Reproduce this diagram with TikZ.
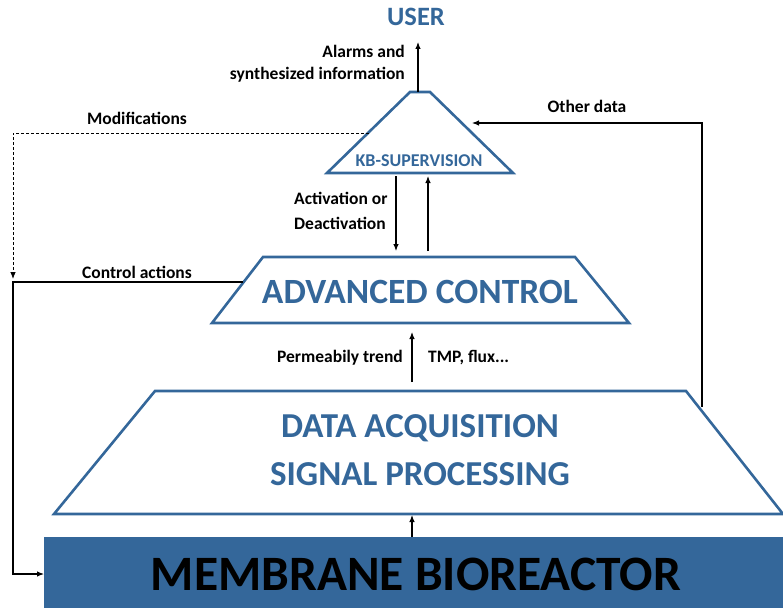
\documentclass[tikz,border=0pt]{standalone}
\usepackage{fontspec}
\setmainfont{Carlito}
\usetikzlibrary{arrows.meta}
\definecolor{mbrblue}{RGB}{52,103,154}

\begin{document}
\begin{tikzpicture}[x=1pt, y=-1pt, >={Latex[length=7pt,width=5.5pt]},
  level/.style={draw=mbrblue, line width=2.6pt, line join=miter},
  conn/.style={line width=1.1pt},
  lbl/.style={font=\fontsize{17.5}{19}\bfseries, inner sep=0pt},
  bluetxt/.style={text=mbrblue, inner sep=0pt}]
  \useasboundingbox (0,0) rectangle (783,607);

  % the four levels
  \fill[mbrblue] (44,537) rectangle (790,612);
  \draw[level] (155,391) -- (686,391) -- (783,514) -- (54,514) -- cycle;
  \draw[level] (263,257) -- (575,257) -- (629,323) -- (212,323) -- cycle;
  \draw[level] (410,92) -- (430,92) -- (513,173) -- (327,173) -- cycle;

  \node[bluetxt, anchor=base, font=\fontsize{26.5}{28}\bfseries] (USER) at (416,26) {USER};
  \node[bluetxt, anchor=base, font=\fontsize{18}{20}\bfseries] (KB) at (419,166) {KB-SUPERVISION};
  \node[bluetxt, anchor=base, font=\fontsize{35.5}{38}\bfseries] (AC) at (420,303) {ADVANCED CONTROL};
  \node[bluetxt, anchor=base, font=\fontsize{35}{38}\bfseries] (DA) at (420,437) {DATA ACQUISITION};
  \node[bluetxt, anchor=base, font=\fontsize{35}{38}\bfseries] (SP) at (420,485) {SIGNAL PROCESSING};
  \node[anchor=base, inner sep=0pt, font=\fontsize{49.5}{52}\bfseries] (MBR) at (416,590) {MEMBRANE BIOREACTOR};

  % labels
  \node[lbl, anchor=base east] (alarm1) at (405,58) {Alarms and};
  \node[lbl, anchor=base east] (alarm2) at (405,80) {synthesized information};
  \node[lbl, anchor=base] (modif) at (137,124) {Modifications};
  \node[lbl, anchor=base] (ctrl) at (137,278) {Control actions};
  \node[lbl, anchor=base west] (act1) at (294,204) {Activation or};
  \node[lbl, anchor=base west] (act2) at (294,229) {Deactivation};
  \node[lbl, anchor=base east] (perm) at (403,362) {Permeabily trend};
  \node[lbl, anchor=base west] (tmp) at (428,362) {TMP, flux...};
  \node[lbl, anchor=base] (other) at (587,112) {Other data};

  % connector ends
  \coordinate (kbtop) at (418,92);
  \coordinate (usr) at (418,42);
  \coordinate (kbleft) at (369,133);
  \coordinate (kbright) at (472,123);
  \coordinate (kbdown) at (396,176);
  \coordinate (kbup) at (428,176);
  \coordinate (acdown) at (396,251);
  \coordinate (acup) at (428,251);
  \coordinate (acleft) at (243,282);
  \coordinate (acbot) at (412,332);
  \coordinate (datop) at (412,382);
  \coordinate (daright) at (702,407);
  \coordinate (dabot) at (412,515);
  \coordinate (mbrtop) at (412,537);
  \coordinate (mbrleft) at (44,574);

  \draw[conn, ->] (kbtop) -- (usr);
  \draw[conn, ->] (kbdown) -- (acdown);
  \draw[conn, ->] (acup) -- (kbup);
  \draw[conn, ->] (datop) -- (acbot);
  \draw[conn, ->] (mbrtop) -- (dabot);
  \draw[conn, ->] (daright) |- (kbright);
  \draw[conn, ->] (acleft) -| (13,574) -- (mbrleft);
  \draw[conn, ->, dash pattern=on 3pt off 2pt, line width=0.8pt] (kbleft) -| (13,279);
\end{tikzpicture}
\end{document}
